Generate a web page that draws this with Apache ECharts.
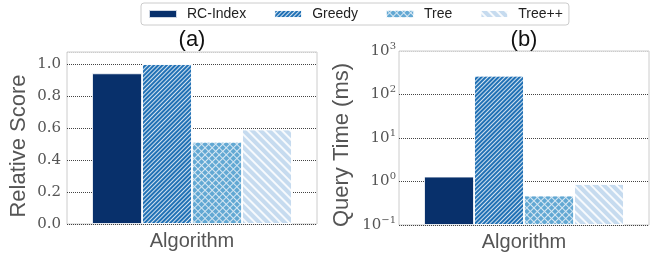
<!DOCTYPE html>
<html>
<head>
<meta charset="utf-8">
<script src="https://cdn.jsdelivr.net/npm/echarts@6/dist/echarts.min.js"></script>
</head>
<body style="margin:0">
<div id="main" style="width:658px;height:253px;"></div>
<script type="text/javascript">
// data
var categories = ['Algorithm'];
var methods = ['RC-Index', 'Greedy', 'Tree', 'Tree++'];
var relativeScore = [0.942, 1.0, 0.514, 0.592];
var queryTime = [1.30, 273, 0.477, 0.885];
var scoreTicks = [0, 0.2, 0.4, 0.6, 0.8, 1.0];

var sans = 'Liberation Sans';
var serif = 'DejaVu Serif';

// fills and hatching per method
var fills = ['#08306b', '#2171b5', '#d6e7f3', '#c6dbef'];
var decals = [
    null,
    {symbol: 'rect', symbolSize: 1, dashArrayX: [1, 0], dashArrayY: [1, 2], rotation: -Math.PI / 4, color: 'rgba(255,255,255,0.8)'},
    {symbol: 'rect', symbolSize: 1, dashArrayX: [4, 1], dashArrayY: [4, 1], rotation: Math.PI / 4, color: '#62a8d3'},
    {symbol: 'rect', symbolSize: 1, dashArrayX: [1, 0], dashArrayY: [2, 4], rotation: Math.PI / 4, color: 'rgba(255,255,255,0.85)'}
];

function makeSeries(values, axisIdx) {
    return methods.map(function (m, i) {
        var st = {color: fills[i], borderColor: 'rgba(255,255,255,0.8)', borderWidth: 1};
        if (decals[i]) st.decal = decals[i];
        return {
            name: m,
            type: 'bar',
            xAxisIndex: axisIdx,
            yAxisIndex: axisIdx,
            barWidth: 50,
            barGap: '0%',
            itemStyle: st,
            data: [values[i]]
        };
    });
}

var superDigits = function (v) {
    var e = Math.round(Math.log10(v));
    return '{b|10}{s|' + (e < 0 ? '\u2212' + (-e) : e) + '}';
};

var myChart = echarts.init(document.getElementById('main'));

var gridLines = ['#444', '#444', '#444', '#444', '#444', '#444', '#ccc'];
var logLines = ['#444', '#444', '#444', '#444', '#ccc'];

option = {
    animation: false,
    title: [
        {text: '(a)', left: 192, top: 29, textAlign: 'center', padding: 0,
         textStyle: {fontFamily: sans, fontSize: 22, fontWeight: 'normal', color: '#111'}},
        {text: '(b)', left: 524, top: 29, textAlign: 'center', padding: 0,
         textStyle: {fontFamily: sans, fontSize: 22, fontWeight: 'normal', color: '#111'}}
    ],
    legend: {
        data: methods,
        left: 141,
        top: 3,
        itemWidth: 28,
        itemHeight: 8,
        itemGap: 27,
        padding: [4, 6, 4, 7],
        borderColor: '#ccc',
        borderWidth: 1,
        borderRadius: 3,
        icon: 'rect',
        textStyle: {fontFamily: sans, fontSize: 14, color: '#222', padding: [0, 0, 0, 5]}
    },
    grid: [
        {left: 67, width: 250, top: 52, height: 172, show: true, borderColor: '#ccc', borderWidth: 1},
        {left: 399, width: 250, top: 51, height: 174, show: true, borderColor: '#ccc', borderWidth: 1}
    ],
    xAxis: [
        {type: 'category', gridIndex: 0, data: categories,
         axisLine: {show: false}, axisTick: {show: false},
         axisLabel: {fontFamily: sans, fontSize: 20, color: '#555', margin: 7}},
        {type: 'category', gridIndex: 1, data: categories,
         axisLine: {show: false}, axisTick: {show: false},
         axisLabel: {fontFamily: sans, fontSize: 20, color: '#555', margin: 7}}
    ],
    yAxis: [
        {type: 'value', gridIndex: 0, min: 0, max: 1.075, interval: 0.2,
         name: 'Relative Score', nameLocation: 'middle', nameGap: 37,
         nameTextStyle: {fontFamily: sans, fontSize: 22, color: '#555', padding: [0, 16, 0, 0]},
         axisLine: {show: false}, axisTick: {show: false},
         axisLabel: {fontFamily: serif, fontSize: 15, color: '#555', margin: 6,
             formatter: function (v) {
                 return scoreTicks.some(function (t) { return Math.abs(t - v) < 1e-6; }) ? v.toFixed(1) : '';
             }},
         splitLine: {show: true, lineStyle: {type: 'dotted', color: gridLines, width: 1}}},
        {type: 'log', gridIndex: 1, logBase: 10, min: 0.1, max: 1000, startValue: 0.1,
         name: 'Query Time (ms)', nameLocation: 'middle', nameGap: 46,
         nameTextStyle: {fontFamily: sans, fontSize: 22, color: '#555', padding: [0, 14, 0, 0]},
         axisLine: {show: false}, axisTick: {show: false},
         axisLabel: {margin: 3, formatter: superDigits,
             rich: {
                 b: {fontFamily: serif, fontSize: 15, color: '#555'},
                 s: {fontFamily: serif, fontSize: 10, color: '#555', padding: [0, 0, 10, 0]}
             }},
         splitLine: {show: true, lineStyle: {type: 'dotted', color: logLines, width: 1}}}
    ],
    series: makeSeries(relativeScore, 0).concat(makeSeries(queryTime, 1))
};

myChart.setOption(option);
</script>
</body>
</html>
